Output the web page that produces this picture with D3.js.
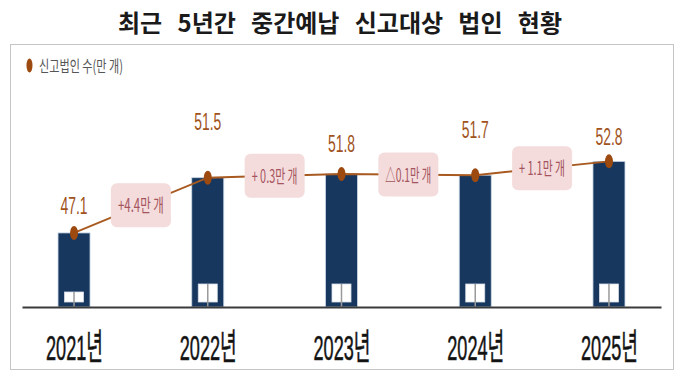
<!DOCTYPE html>
<html>
<head>
<meta charset="utf-8">
<script src="https://cdn.jsdelivr.net/npm/d3@7"></script>
<style>
  body { margin: 0; background: #fff; }
  svg { display: block; }
</style>
</head>
<body>
<div id="chart"></div>
<script>
"use strict";

/* ===== data ===== */
let years = ["2021년", "2022년", "2023년", "2024년", "2025년"];
let corpCount = [47.1, 51.5, 51.8, 51.7, 52.8];          // 만 개
let changeLabels = ["+4.4만 개", "+ 0.3만 개", "△0.1만 개", "+ 1.1만 개"];

/* ===== layout ===== */
let width = 680, height = 379;
let baseY = 307, topY = 162;
let labelLift = [19, 48, 22, 37, 16];   // hand-placed value labels
let iconH = [10, 18, 18, 18, 18];

let svg = d3.select("#chart").append("svg")
  .attr("width", width)
  .attr("height", height);

/* title */
let title = svg.append("text")
  .attr("x", 340)
  .attr("y", 32)
  .attr("text-anchor", "middle")
  .attr("font-family", "'Noto Sans CJK KR', sans-serif")
  .attr("font-weight", "bold")
  .attr("font-size", 24)
  .attr("fill", "#1a1a1a")
  .text("최근 5년간 중간예납 신고대상 법인 현황");
let tl = title.node().getComputedTextLength();
title.attr("word-spacing", Math.max(0, (444 - tl) / 5) + "px");

/* dotted frame */
svg.append("rect")
  .attr("x", 10.5).attr("y", 44.5)
  .attr("width", 663).attr("height", 325)
  .attr("fill", "none")
  .attr("stroke", "#8a8a8a")
  .attr("stroke-width", 1)
  .attr("stroke-dasharray", "1,1");

/* legend */
svg.append("ellipse")
  .attr("cx", 29.5).attr("cy", 65.5)
  .attr("rx", 3).attr("ry", 7)
  .attr("fill", "#9c4a10");
svg.append("text")
  .attr("x", 39).attr("y", 71.5)
  .attr("font-family", "'Noto Sans CJK KR', sans-serif")
  .attr("font-size", 16)
  .attr("fill", "#555")
  .attr("textLength", 84)
  .attr("lengthAdjust", "spacingAndGlyphs")
  .text("신고법인 수(만 개)");

/* scales */
let x = d3.scalePoint()
  .domain(years)
  .range([22, 661])
  .padding(0.389);

let y = d3.scaleLinear()
  .domain([41.2, 52.75])
  .range([baseY, topY]);

let barW = 32;

/* bars */
svg.selectAll("rect.bar")
  .data(corpCount)
  .join("rect")
  .attr("class", "bar")
  .attr("x", (d, i) => x(years[i]) - barW / 2)
  .attr("y", d => y(d))
  .attr("width", barW)
  .attr("height", d => baseY - y(d))
  .attr("fill", "#17375e")
  .attr("stroke", "#c9d6e6")
  .attr("stroke-width", 0.8);

/* little white icons at the bar feet */
years.forEach(function (yr, i) {
  let cx = x(yr);
  let h = iconH[i];
  svg.append("rect")
    .attr("x", cx - 9.5).attr("y", 302 - h)
    .attr("width", 19).attr("height", h)
    .attr("fill", "#ffffff")
    .attr("stroke", "#d8dde5")
    .attr("stroke-width", 0.8);
  svg.append("line")
    .attr("x1", cx).attr("x2", cx)
    .attr("y1", 302 - h).attr("y2", baseY)
    .attr("stroke", "#9a9a9a")
    .attr("stroke-width", 1.5);
});

/* axis */
let axis = svg.append("g")
  .attr("transform", "translate(0," + baseY + ")")
  .call(d3.axisBottom(x).tickSize(0).tickSizeOuter(0));
axis.select(".domain")
  .attr("stroke", "#3a3a3a")
  .attr("stroke-width", 2);
axis.selectAll(".tick text")
  .attr("y", 0)
  .attr("dy", 0)
  .attr("font-family", "'Liberation Sans', 'Noto Sans CJK KR', sans-serif")
  .attr("font-size", 36)
  .attr("fill", "#111")
  .attr("stroke", "#222")
  .attr("stroke-width", 0.6)
  .each(function () {
    let w = this.getComputedTextLength();
    d3.select(this).attr("transform", "translate(0,53) scale(" + (57 / w) + ",1)");
  });

/* line */
let pts = corpCount.map((d, i) => [x(years[i]), y(d)]);
svg.append("path")
  .datum(pts)
  .attr("d", d3.line())
  .attr("fill", "none")
  .attr("stroke", "#a85a20")
  .attr("stroke-width", 2);

/* change boxes */
changeLabels.forEach(function (lab, i) {
  let mx = (pts[i][0] + pts[i + 1][0]) / 2;
  let my = (pts[i][1] + pts[i + 1][1]) / 2;
  svg.append("rect")
    .attr("x", mx - 30).attr("y", my - 22)
    .attr("width", 60).attr("height", 44)
    .attr("rx", 6)
    .attr("fill", "#f4dcdc");
  svg.append("text")
    .attr("x", mx).attr("y", my + 7)
    .attr("text-anchor", "middle")
    .attr("font-family", "'Noto Sans CJK KR', sans-serif")
    .attr("font-size", 18)
    .attr("fill", "#a4545c")
    .attr("textLength", 46)
    .attr("lengthAdjust", "spacingAndGlyphs")
    .text(lab);
});

/* dots */
svg.selectAll("ellipse.dot")
  .data(pts)
  .join("ellipse")
  .attr("class", "dot")
  .attr("cx", d => d[0])
  .attr("cy", d => d[1])
  .attr("rx", 4)
  .attr("ry", 7)
  .attr("fill", "#9c4a10");

/* value labels */
svg.selectAll("text.val")
  .data(corpCount)
  .join("text")
  .attr("class", "val")
  .attr("x", (d, i) => pts[i][0])
  .attr("y", (d, i) => pts[i][1] - labelLift[i])
  .attr("text-anchor", "middle")
  .attr("font-family", "'Liberation Sans', sans-serif")
  .attr("font-size", 23)
  .attr("fill", "#a0531c")
  .attr("textLength", 27)
  .attr("lengthAdjust", "spacingAndGlyphs")
  .text(d => d.toFixed(1));
</script>
</body>
</html>
